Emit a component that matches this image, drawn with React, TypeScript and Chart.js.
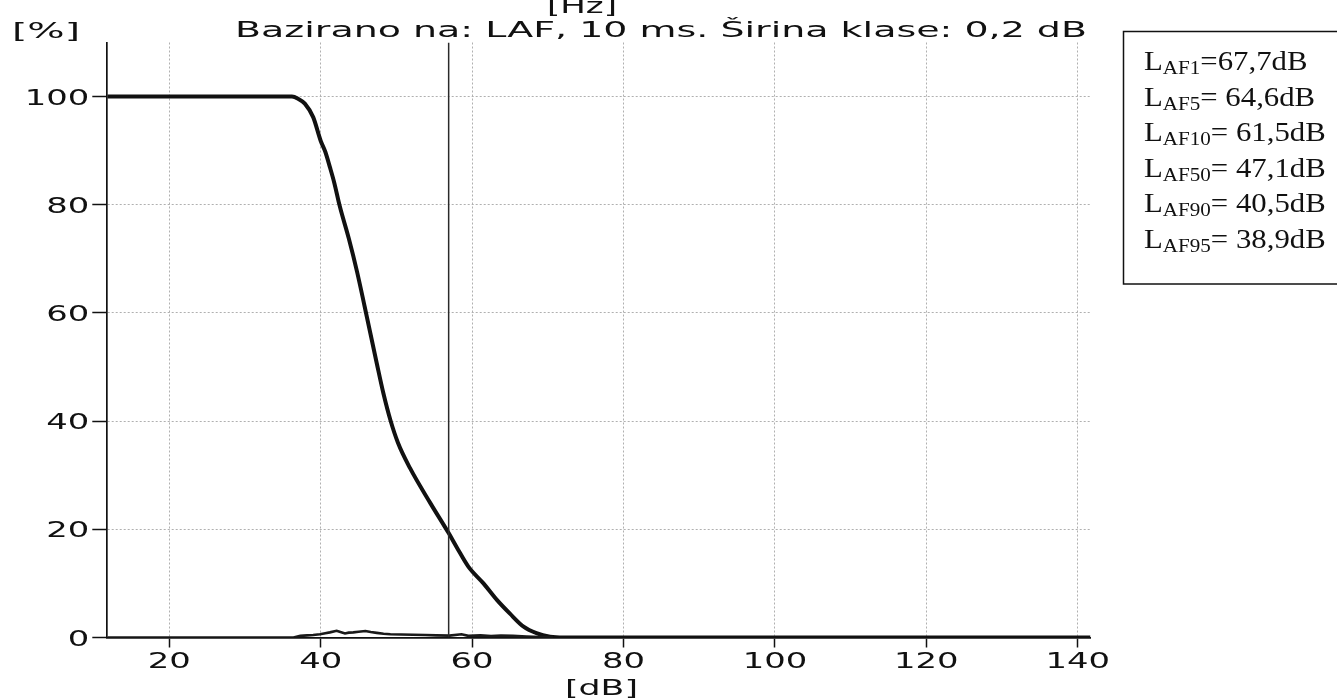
import React, { useEffect, useRef } from "react";
import { Chart, registerables } from "chart.js";

Chart.register(...registerables);

// ---- axis ranges and ticks ----
const X_MIN = 11.8;
const X_MAX = 141.7;
const Y_MIN = 0;
const Y_MAX = 110;
const xTickValues = [20, 40, 60, 80, 100, 120, 140];
const yTickValues = [0, 20, 40, 60, 80, 100];

// ---- cumulative distribution (percent of time level exceeded) ----
const cumLevels = [
  11.8, 36.2, 37.0, 37.9, 39.0, 40.0, 40.6, 41.2, 41.8, 42.5, 43.7, 44.8, 45.8,
  47.4, 48.3, 49.2, 50.2, 51.8, 54.5, 56.9, 58.0, 59.5, 61.5, 63.3, 65.0, 66.8,
  68.5, 70.3, 72.1, 141.7,
];
const cumPercent = [
  100, 100, 99.6, 98.7, 96.2, 91.8, 89.8, 87.0, 84.0, 79.8, 73.8, 67.6, 61.2,
  50.7, 45.0, 40.2, 36.0, 31.3, 24.8, 19.3, 16.6, 13.1, 10.0, 6.9, 4.4, 2.0,
  0.8, 0.15, 0, 0,
];

// ---- level distribution (class width 0,2 dB) ----
const histLevels = [
  11.8, 36.4, 37.3, 38.2, 39.0, 39.9, 40.6, 41.2, 42.1, 42.6, 43.2, 43.7, 44.3,
  45.0, 45.9, 46.6, 47.4, 48.3, 49.2, 50.6, 52.2, 53.8, 55.3, 57.0, 58.6, 59.5,
  61.1, 62.5, 63.8, 65.4, 67.2, 69.0, 70.7,
];
const histPercent = [
  0, 0, 0.3, 0.4, 0.45, 0.6, 0.8, 0.95, 1.25, 1.0, 0.75, 0.9, 0.95, 1.05, 1.2,
  1.0, 0.85, 0.7, 0.6, 0.55, 0.5, 0.45, 0.4, 0.35, 0.6, 0.3, 0.4, 0.25, 0.35,
  0.3, 0.18, 0.1, 0,
];

// ---- cursor ----
const cursorLevel = 56.9;

// ---- texts ----
const titleText = "Bazirano na: LAF, 10 ms. Širina klase: 0,2 dB";
const topUnit = "[Hz]";
const yUnit = "[%]";
const xUnit = "[dB]";
const statPercentiles = [1, 5, 10, 50, 90, 95];
const statLevels = [67.7, 64.6, 61.5, 47.1, 40.5, 38.9];

const INK = "#111111";
const GRID = "#b0b0b0";

const zip = (xs: number[], ys: number[]) => xs.map((x, i) => ({ x, y: ys[i] }));

const textPlugin = {
  id: "scanText",
  afterDraw(chart: any) {
    const ctx: CanvasRenderingContext2D = chart.ctx;
    const xs = chart.scales.x;
    const ys = chart.scales.y;
    const area = chart.chartArea;
    ctx.save();
    ctx.fillStyle = INK;
    ctx.textBaseline = "alphabetic";
    const drawStretch = (text: string, x: number, y: number, align: CanvasTextAlign, sx: number) => {
      ctx.save();
      ctx.translate(x, y);
      ctx.scale(sx, 1);
      ctx.textAlign = align;
      ctx.fillText(text, 0, 0);
      ctx.restore();
    };
    const fitStretch = (text: string, left: number, right: number, y: number) => {
      const w = ctx.measureText(text).width;
      drawStretch(text, left, y, "left", (right - left) / w);
    };
    ctx.font = '21px "DejaVu Sans"';
    const tickStretch = 43 / ctx.measureText("80").width;
    yTickValues.forEach((v) =>
      drawStretch(String(v), area.left - 18, ys.getPixelForValue(v) + 8, "right", tickStretch)
    );
    xTickValues.forEach((v) =>
      drawStretch(String(v), xs.getPixelForValue(v), area.bottom + 30.5, "center", tickStretch)
    );
    ctx.font = '21.5px "DejaVu Sans"';
    fitStretch(titleText, 235, 1087, 37);
    fitStretch(topUnit, 547, 617, 13);
    ctx.font = '21px "DejaVu Sans"';
    fitStretch(yUnit, 12, 80, 38);
    fitStretch(xUnit, 565, 638, 695);

    // statistics box
    ctx.lineWidth = 1.5;
    ctx.strokeStyle = INK;
    ctx.strokeRect(1123.5, 31.5, 260, 252.5);
    statLevels.forEach((lv, i) => {
      const base = 70 + i * 35.5;
      ctx.save();
      ctx.translate(1144, base);
      ctx.scale(1.14, 1);
      ctx.textAlign = "left";
      let x = 0;
      ctx.font = '27px "Liberation Serif"';
      ctx.fillText("L", x, 0);
      x += ctx.measureText("L").width;
      ctx.font = '18.5px "Liberation Serif"';
      const sub = "AF" + statPercentiles[i];
      ctx.fillText(sub, x, 4);
      x += ctx.measureText(sub).width;
      ctx.font = '27px "Liberation Serif"';
      const val = (i === 0 ? "=" : "= ") + lv.toFixed(1).replace(".", ",") + "dB";
      ctx.fillText(val, x, 0);
      ctx.restore();
    });
    ctx.restore();
  },
};

export default function App() {
  const ref = useRef<HTMLCanvasElement | null>(null);
  useEffect(() => {
    if (!ref.current) return;
    const chart = new Chart(ref.current, {
      type: "line",
      data: {
        datasets: [
          {
            data: zip([cursorLevel, cursorLevel], [Y_MIN, Y_MAX]),
            borderColor: "#2a2a2a",
            borderWidth: 1.5,
            pointRadius: 0,
          },
          {
            data: zip(histLevels, histPercent),
            borderColor: "#1a1a1a",
            borderWidth: 2.6,
            pointRadius: 0,
            tension: 0,
          },
          {
            data: zip(cumLevels, cumPercent),
            borderColor: INK,
            borderWidth: 4,
            pointRadius: 0,
            cubicInterpolationMode: "monotone",
          },
        ],
      },
      options: {
        animation: false,
        responsive: false,
        devicePixelRatio: 1,
        layout: { padding: { left: 0, top: 42.5, right: 246.5, bottom: 0 } },
        plugins: { legend: { display: false }, tooltip: { enabled: false } },
        scales: {
          x: {
            type: "linear",
            min: X_MIN,
            max: X_MAX,
            afterBuildTicks: (s: any) => {
              s.ticks = xTickValues.map((v) => ({ value: v }));
            },
            afterFit: (s: any) => {
              s.height = 62.5;
            },
            ticks: { display: false },
            grid: {
              color: GRID,
              lineWidth: 1,
              tickColor: INK,
              tickLength: 10,
              tickWidth: 1.5,
            },
            border: { color: INK, width: 1.7, dash: [2, 2] },
          },
          y: {
            type: "linear",
            min: Y_MIN,
            max: Y_MAX,
            afterBuildTicks: (s: any) => {
              s.ticks = yTickValues.map((v) => ({ value: v }));
            },
            afterFit: (s: any) => {
              s.width = 107.3;
            },
            ticks: { display: false },
            grid: {
              color: (c: any) => (c.tick && c.tick.value === 0 ? "rgba(0,0,0,0)" : GRID),
              lineWidth: 1,
              tickColor: INK,
              tickLength: 15,
              tickWidth: 1.5,
            },
            border: { color: INK, width: 1.7, dash: [2, 2] },
          },
        },
      } as any,
      plugins: [textPlugin],
    });
    return () => chart.destroy();
  }, []);
  return (
    <div style={{ position: "absolute", left: 0, top: 0, width: 1337, height: 700, background: "#fff" }}>
      <canvas ref={ref} width={1337} height={700} style={{ width: 1337, height: 700, display: "block" }} />
    </div>
  );
}
